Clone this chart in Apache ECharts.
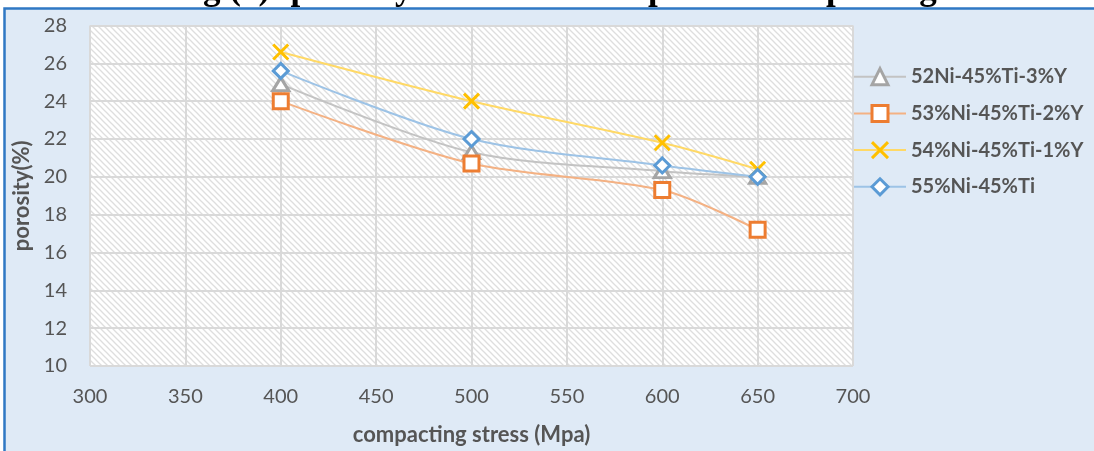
<!DOCTYPE html>
<html>
<head>
<meta charset="utf-8">
<script src="https://cdn.jsdelivr.net/npm/echarts@6/dist/echarts.min.js"></script>
<style>
  html, body { margin: 0; padding: 0; background: #fff; }
  #chart { width: 1094px; height: 451px; }
</style>
</head>
<body>
<div id="chart"></div>
<script>
// Compacting stress (MPa) at which the samples were pressed
const stress = [400, 500, 600, 650];

// Porosity (%) of each sintered composition
const ni52Ti45Y3 = [24.9, 21.3, 20.3, 20.0];
const ni53Ti45Y2 = [24.0, 20.7, 19.3, 17.2];
const ni54Ti45Y1 = [26.6, 24.0, 21.8, 20.4];
const ni55Ti45   = [25.6, 22.0, 20.6, 20.0];

const seriesNames = ['52Ni-45%Ti-3%Y', '53%Ni-45%Ti-2%Y', '54%Ni-45%Ti-1%Y', '55%Ni-45%Ti'];

const titleText = 'Fig (3): porosity of sintered samples vs. compacting stress.';
const xAxisName = 'compacting stress (Mpa)';
const yAxisName = 'porosity(%)';

// Diagonal hatch tile for the plot background
function hatchTile() {
  const n = 6;
  const c = document.createElement('canvas');
  c.width = n; c.height = n;
  const g = c.getContext('2d');
  g.fillStyle = '#ffffff';
  g.fillRect(0, 0, n, n);
  g.strokeStyle = '#dedede';
  g.lineWidth = 1.3;
  for (let k = -1; k <= 1; k++) {
    g.beginPath();
    g.moveTo(k * n - 1, -1);
    g.lineTo(k * n + n + 1, n + 1);
    g.stroke();
  }
  return c;
}

const pairs = arr => stress.map((x, i) => [x, arr[i]]);

const labelFont = { fontFamily: 'Lato', fontSize: 20, color: '#555555' };

function lineSeries(name, data, lineColor, markColor, symbol, size, fill) {
  return {
    name: name,
    type: 'line',
    data: pairs(data),
    smooth: 0.3,
    symbol: symbol,
    symbolSize: size,
    showAllSymbol: true,
    lineStyle: { color: lineColor, width: 2 },
    itemStyle: { color: fill, borderColor: markColor, borderWidth: 3 },
    emphasis: { disabled: true }
  };
}

const chart = echarts.init(document.getElementById('chart'), null, { renderer: 'canvas' });

chart.setOption({
  animation: false,
  backgroundColor: '#ffffff',
  graphic: [
    {
      type: 'text',
      z: -10,
      x: 172,
      y: 7.5,
      style: {
        text: titleText,
        font: 'bold 35px "Liberation Serif"',
        fill: '#000000',
        textAlign: 'left',
        textVerticalAlign: 'bottom'
      }
    },
    {
      type: 'rect',
      z: -5,
      shape: { x: 4.5, y: 8.5, width: 1200, height: 600 },
      style: { fill: '#dfeaf6', stroke: '#2f78c4', lineWidth: 2.5 }
    }
  ],
  grid: {
    left: 90,
    right: 241,
    top: 25.5,
    bottom: 82.5,
    show: true,
    borderWidth: 0,
    backgroundColor: { image: hatchTile(), repeat: 'repeat' }
  },
  legend: {
    orient: 'vertical',
    left: 848,
    top: 61.7,
    itemWidth: 52,
    itemHeight: 20,
    itemGap: 16.7,
    itemStyle: { borderWidth: 3 },
    textStyle: { fontFamily: 'Lato', fontSize: 20, fontWeight: 'bold', color: '#555555' },
    data: seriesNames.map(n => ({ name: n, itemStyle: { borderWidth: 3 } }))
  },
  xAxis: {
    type: 'value',
    min: 300,
    max: 700,
    interval: 50,
    name: xAxisName,
    nameLocation: 'middle',
    nameGap: 58,
    nameTextStyle: { fontFamily: 'Lato', fontSize: 22, fontWeight: 'bold', color: '#555555' },
    axisLine: { show: false },
    axisTick: { show: false },
    axisLabel: Object.assign({ margin: 21 }, labelFont),
    splitLine: { show: true, lineStyle: { color: '#d9d9d9', width: 2 } }
  },
  yAxis: {
    type: 'value',
    min: 10,
    max: 28,
    interval: 2,
    name: yAxisName,
    nameLocation: 'middle',
    nameGap: 56,
    nameRotate: 90,
    nameTextStyle: { fontFamily: 'Lato', fontSize: 22, fontWeight: 'bold', color: '#555555' },
    axisLine: { show: false },
    axisTick: { show: false },
    axisLabel: Object.assign({ margin: 23 }, labelFont),
    splitLine: { show: true, lineStyle: { color: '#d9d9d9', width: 2 } }
  },
  series: [
    lineSeries(seriesNames[0], ni52Ti45Y3, '#c3c3c3', '#a5a5a5', 'triangle', [16, 13], '#ffffff'),
    lineSeries(seriesNames[1], ni53Ti45Y2, '#f4b183', '#ed7d31', 'rect', 15, '#ffffff'),
    lineSeries(seriesNames[2], ni54Ti45Y1, '#ffd966', '#ffc000', 'path://M0,0L10,10M10,0L0,10', 15, '#ffc000'),
    lineSeries(seriesNames[3], ni55Ti45, '#9dc3e6', '#5b9bd5', 'diamond', 15, '#ffffff')
  ]
});
</script>
</body>
</html>
